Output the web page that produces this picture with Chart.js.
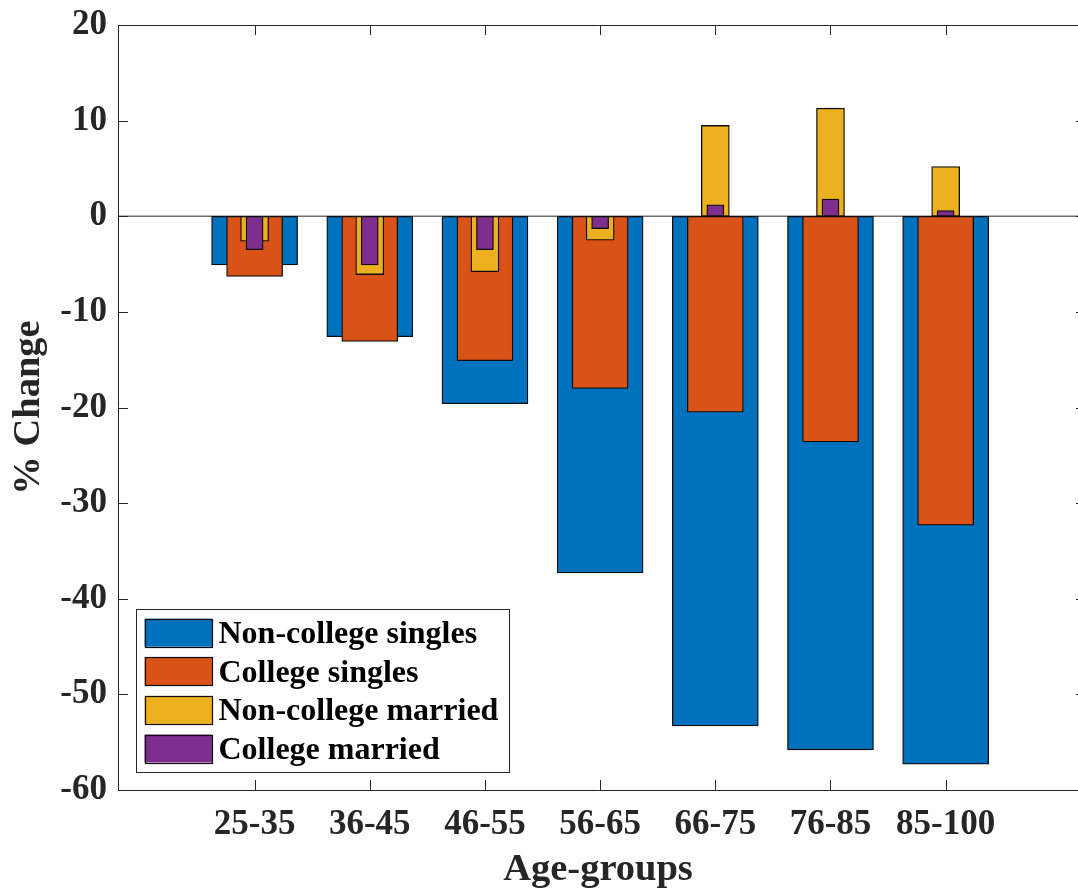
<!DOCTYPE html>
<html>
<head>
<meta charset="utf-8">
<script src="https://cdn.jsdelivr.net/npm/chart.js@4/dist/chart.umd.min.js"></script>
<style>
  html, body { margin: 0; padding: 0; background: #ffffff; }
  #wrap { width: 1078px; height: 894px; position: relative; }
</style>
</head>
<body>
<div id="wrap"><canvas id="c" width="1078" height="894"></canvas></div>
<script>
// Percentage change by age group for each household type
const ageGroups = ['25-35', '36-45', '46-55', '56-65', '66-75', '76-85', '85-100'];
const nonCollegeSingles = [-5.1, -12.6, -19.6, -37.3, -53.3, -55.8, -57.3];
const collegeSingles    = [-6.3, -13.1, -15.1, -18.0, -20.5, -23.6, -32.3];
const nonCollegeMarried = [-2.6, -6.1, -5.8, -2.5, 9.5, 11.3, 5.2];
const collegeMarried    = [-3.5, -5.1, -3.5, -1.3, 1.2, 1.8, 0.6];
const yTicks = [-60, -50, -40, -30, -20, -10, 0, 10, 20];

const AXIS_COLOR = '#262626';
const EDGE_COLOR = '#0d0d0d';
const FONT = 'Liberation Serif';

function points(vals) {
  return vals.map((v, i) => ({ x: i + 1, y: v }));
}

const barCommon = {
  borderColor: EDGE_COLOR,
  borderWidth: 1.3,
  borderSkipped: false,
  grouped: false
};

// zero baseline across the full plot width
const baseline = {
  id: 'baseline',
  beforeDatasetsDraw(chart) {
    const { ctx, chartArea } = chart;
    const y = chart.scales.y.getPixelForValue(0);
    ctx.save();
    ctx.strokeStyle = '#6e6e6e';
    ctx.lineWidth = 1.5;
    ctx.beginPath();
    ctx.moveTo(chartArea.left, y);
    ctx.lineTo(chartArea.right, y);
    ctx.stroke();
    ctx.restore();
  }
};

// boxed axes with inward tick marks on all sides
const frame = {
  id: 'frame',
  afterDatasetsDraw(chart) {
    const { ctx, chartArea } = chart;
    const { left, right, top, bottom } = chartArea;
    const xs = chart.scales.x, ys = chart.scales.y;
    const tl = 10;
    ctx.save();
    ctx.strokeStyle = AXIS_COLOR;
    ctx.lineWidth = 1;
    ctx.beginPath();
    ctx.moveTo(left + 0.5, top + 0.5);
    ctx.lineTo(right, top + 0.5);
    ctx.moveTo(left + 0.5, top);
    ctx.lineTo(left + 0.5, bottom + 0.5);
    ctx.lineTo(right, bottom + 0.5);
    xs.ticks.forEach(t => {
      const px = Math.round(xs.getPixelForValue(t.value)) + 0.5;
      ctx.moveTo(px, bottom);
      ctx.lineTo(px, bottom - tl);
      ctx.moveTo(px, top);
      ctx.lineTo(px, top + tl);
    });
    ys.ticks.forEach(t => {
      const py = Math.round(ys.getPixelForValue(t.value)) + 0.5;
      ctx.moveTo(left, py);
      ctx.lineTo(left + tl, py);
      ctx.moveTo(right - 2, py);
      ctx.lineTo(right, py);
    });
    ctx.stroke();
    ctx.restore();
  }
};

// legend box in the lower-left corner of the plot
const legendBox = {
  id: 'legendBox',
  afterDraw(chart) {
    const { ctx, chartArea } = chart;
    const boxW = 373, boxH = 163;
    const bx = chartArea.left + 17.5;
    const by = chartArea.bottom - 17.7 - boxH;
    ctx.save();
    ctx.fillStyle = '#ffffff';
    ctx.fillRect(bx, by, boxW, boxH);
    ctx.strokeStyle = AXIS_COLOR;
    ctx.lineWidth = 1;
    ctx.strokeRect(Math.round(bx) + 0.5, Math.round(by) + 0.5, boxW, boxH);
    ctx.font = 'bold 32px "' + FONT + '"';
    ctx.textAlign = 'left';
    ctx.textBaseline = 'alphabetic';
    chart.data.datasets.forEach((ds, k) => {
      const sy = by + 9.4 + k * 38.6;
      ctx.fillStyle = ds.backgroundColor;
      ctx.fillRect(bx + 9, sy, 67.7, 28);
      ctx.strokeStyle = EDGE_COLOR;
      ctx.lineWidth = 1.2;
      ctx.strokeRect(Math.round(bx + 9) + 0.5, Math.round(sy) + 0.5, 67, 28);
      ctx.fillStyle = '#000000';
      ctx.fillText(ds.label, bx + 83, sy + 24.3);
    });
    ctx.restore();
  }
};

new Chart(document.getElementById('c'), {
  type: 'bar',
  data: {
    datasets: [
      Object.assign({ label: 'Non-college singles', data: points(nonCollegeSingles), backgroundColor: '#0072BD', barThickness: 86, order: 4 }, barCommon),
      Object.assign({ label: 'College singles', data: points(collegeSingles), backgroundColor: '#D95319', barThickness: 56, order: 3 }, barCommon),
      Object.assign({ label: 'Non-college married', data: points(nonCollegeMarried), backgroundColor: '#EDB120', barThickness: 28, order: 2 }, barCommon),
      Object.assign({ label: 'College married', data: points(collegeMarried), backgroundColor: '#7E2F8E', barThickness: 17, order: 1 }, barCommon)
    ]
  },
  options: {
    responsive: false,
    animation: false,
    devicePixelRatio: 1,
    layout: { padding: { top: 25, right: 0, bottom: 0, left: 0 } },
    plugins: {
      legend: { display: false },
      tooltip: { enabled: false }
    },
    scales: {
      x: {
        type: 'linear',
        offset: false,
        min: -0.186,
        max: 8.149,
        afterBuildTicks(scale) {
          scale.ticks = ageGroups.map((_, i) => ({ value: i + 1 }));
        },
        ticks: {
          autoSkip: false,
          maxRotation: 0,
          minRotation: 0,
          padding: 14,
          color: AXIS_COLOR,
          font: { family: FONT, size: 35, weight: 'bold' },
          callback: (v) => ageGroups[Math.round(v) - 1]
        },
        grid: { display: false, drawTicks: false, offset: false },
        border: { display: false },
        title: {
          display: true,
          text: 'Age-groups',
          color: AXIS_COLOR,
          font: { family: FONT, size: 38.5, weight: 'bold' },
          padding: { top: 0, bottom: 1 }
        },
        afterFit(scale) {
          scale.height = 104;
          scale.paddingLeft = 0;
          scale.paddingRight = 0;
        }
      },
      y: {
        min: -60,
        max: 20,
        afterBuildTicks(scale) {
          scale.ticks = yTicks.map(v => ({ value: v }));
        },
        ticks: {
          padding: 11,
          color: AXIS_COLOR,
          font: { family: FONT, size: 35, weight: 'bold' }
        },
        grid: { display: false, drawTicks: false },
        border: { display: false },
        title: {
          display: true,
          text: '% Change',
          color: AXIS_COLOR,
          font: { family: FONT, size: 38.5, weight: 'bold' },
          padding: { top: 5.6, bottom: 0 }
        },
        afterFit(scale) {
          scale.width = 118;
          scale.paddingTop = 0;
          scale.paddingBottom = 0;
        }
      }
    }
  },
  plugins: [baseline, frame, legendBox]
});
</script>
</body>
</html>
